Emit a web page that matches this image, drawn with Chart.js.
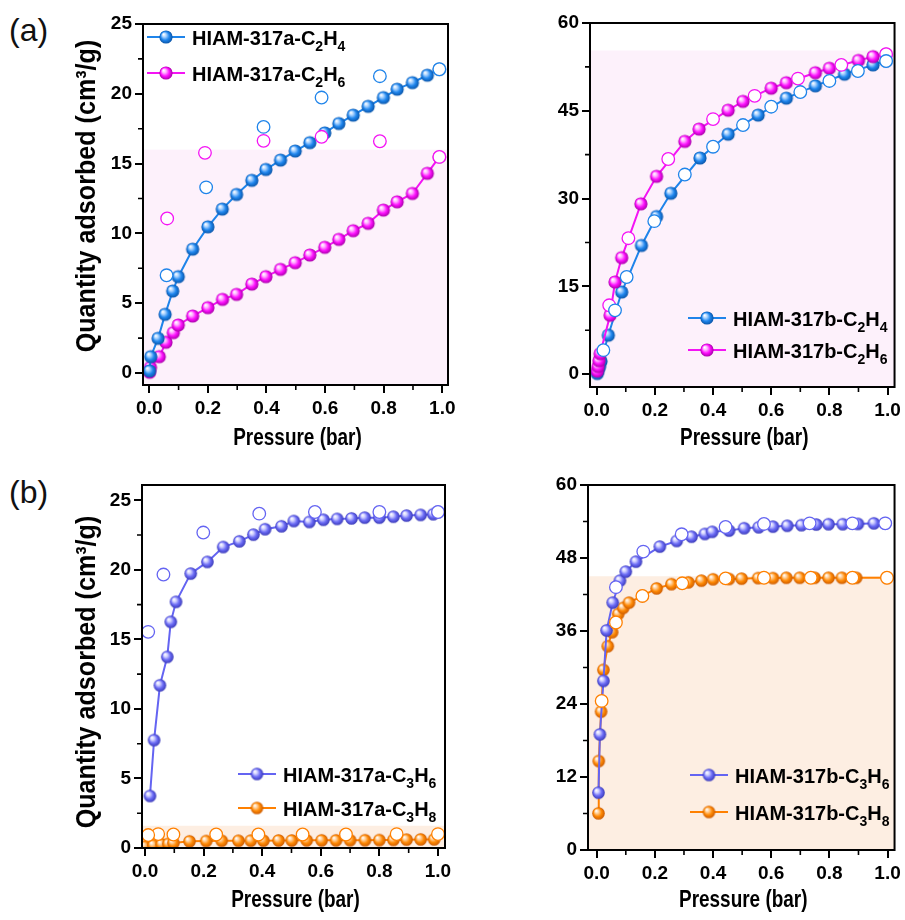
<!DOCTYPE html>
<html>
<head>
<meta charset="utf-8">
<script src="https://cdn.jsdelivr.net/npm/chart.js@4.4.1/dist/chart.umd.min.js"></script>
<style>
  html, body { margin: 0; padding: 0; background: #fff; }
  #wrap { position: relative; width: 905px; height: 920px; overflow: hidden; }
  canvas { position: absolute; }
  .tag { position: absolute; font: 32px 'Liberation Sans', Arial, sans-serif; color: #111; }
</style>
</head>
<body>
<div id="wrap">
  <div class="tag" style="left:9px; top:12px">(a)</div>
  <div class="tag" style="left:9px; top:474px">(b)</div>
  <canvas id="c1" width="470" height="462" style="left:0px; top:0px"></canvas>
  <canvas id="c2" width="445" height="462" style="left:460px; top:0px"></canvas>
  <canvas id="c3" width="470" height="458" style="left:0px; top:462px"></canvas>
  <canvas id="c4" width="445" height="458" style="left:460px; top:462px"></canvas>
</div>
<script>
// pressure (bar) and quantity adsorbed (cm3/g)
// (a) HIAM-317a, C2H4 / C2H6
const p_aC2H4 = [0.001, 0.005, 0.03, 0.054, 0.08, 0.099, 0.148, 0.2, 0.249, 0.298, 0.35, 0.398, 0.448, 0.498, 0.548, 0.599, 0.647, 0.696, 0.747, 0.799, 0.846, 0.898, 0.949, 0.99];
const q_aC2H4 = [0.15, 1.17, 2.48, 4.2, 5.87, 6.9, 8.87, 10.47, 11.74, 12.79, 13.8, 14.58, 15.25, 15.9, 16.5, 17.2, 17.87, 18.47, 19.1, 19.73, 20.33, 20.8, 21.33, 21.76];
const p_aC2H4_des = [0.99, 0.787, 0.588, 0.39, 0.194, 0.059];
const q_aC2H4_des = [21.76, 21.26, 19.73, 17.63, 13.3, 7.0];
const p_aC2H6 = [0.001, 0.004, 0.034, 0.057, 0.082, 0.099, 0.148, 0.2, 0.25, 0.298, 0.35, 0.398, 0.448, 0.498, 0.548, 0.599, 0.647, 0.696, 0.747, 0.799, 0.846, 0.898, 0.949, 0.99];
const q_aC2H6 = [0.05, 0.4, 1.17, 2.2, 2.89, 3.44, 4.08, 4.68, 5.27, 5.63, 6.37, 6.9, 7.42, 7.9, 8.45, 9.0, 9.57, 10.19, 10.72, 11.67, 12.26, 12.86, 14.3, 15.48];
const p_aC2H6_des = [0.99, 0.787, 0.588, 0.39, 0.19, 0.061];
const q_aC2H6_des = [15.48, 16.6, 16.92, 16.63, 15.77, 11.07];

// (a) HIAM-317b, C2H4 / C2H6
const p_bC2H4 = [0.002, 0.005, 0.01, 0.015, 0.04, 0.086, 0.154, 0.206, 0.255, 0.355, 0.452, 0.555, 0.652, 0.752, 0.852, 0.95, 0.995];
const q_bC2H4 = [0.1, 0.6, 1.3, 2.2, 6.65, 14.03, 21.99, 26.93, 30.9, 36.93, 41.0, 44.26, 47.16, 49.26, 51.25, 52.84, 53.5];
const p_bC2H4_des = [0.995, 0.898, 0.8, 0.7, 0.6, 0.503, 0.4, 0.303, 0.198, 0.103, 0.063, 0.023];
const q_bC2H4_des = [53.5, 51.8, 50.1, 48.2, 45.7, 42.56, 38.86, 34.1, 26.14, 16.6, 10.9, 4.1];
const p_bC2H6 = [0.002, 0.005, 0.008, 0.012, 0.046, 0.063, 0.086, 0.152, 0.206, 0.303, 0.352, 0.452, 0.503, 0.6, 0.652, 0.752, 0.8, 0.9, 0.95, 0.995];
const q_bC2H6 = [0.5, 1.3, 2.3, 3.5, 10.06, 15.74, 19.9, 29.1, 33.8, 39.77, 41.87, 45.1, 46.6, 48.86, 49.8, 51.5, 52.26, 53.6, 54.25, 54.66];
const p_bC2H6_des = [0.995, 0.841, 0.692, 0.543, 0.4, 0.246, 0.109, 0.043];
const q_bC2H6_des = [54.66, 52.84, 50.5, 47.55, 43.58, 36.76, 23.23, 11.76];

// (b) HIAM-317a, C3H6 / C3H8
const p_aC3H6 = [0.017, 0.031, 0.051, 0.076, 0.088, 0.106, 0.156, 0.213, 0.267, 0.322, 0.37, 0.41, 0.466, 0.508, 0.561, 0.609, 0.656, 0.705, 0.75, 0.8, 0.848, 0.893, 0.941, 0.984, 1.0];
const q_aC3H6 = [3.74, 7.76, 11.7, 13.74, 16.26, 17.7, 19.73, 20.57, 21.64, 22.05, 22.53, 22.92, 23.13, 23.51, 23.44, 23.6, 23.66, 23.7, 23.75, 23.75, 23.82, 23.9, 23.95, 24.0, 24.16];
const p_aC3H6_des = [1.0, 0.8, 0.58, 0.39, 0.199, 0.063, 0.011];
const q_aC3H6_des = [24.16, 24.16, 24.16, 24.04, 22.68, 19.66, 15.54];
const p_aC3H8 = [0.0, 0.029, 0.057, 0.08, 0.097, 0.152, 0.209, 0.262, 0.319, 0.361, 0.404, 0.456, 0.501, 0.552, 0.603, 0.652, 0.7, 0.751, 0.8, 0.848, 0.893, 0.941, 0.987];
const q_aC3H8 = [0.1, 0.2, 0.26, 0.3, 0.36, 0.48, 0.5, 0.52, 0.52, 0.53, 0.53, 0.54, 0.54, 0.55, 0.55, 0.55, 0.56, 0.56, 0.57, 0.58, 0.6, 0.62, 0.62];
const p_aC3H8_des = [1.0, 0.859, 0.686, 0.538, 0.387, 0.243, 0.097, 0.045, 0.011];
const q_aC3H8_des = [1.0, 1.0, 0.97, 0.97, 0.97, 0.97, 0.97, 1.0, 0.93];

// (b) HIAM-317b, C3H6 / C3H8
const p_bC3H6 = [0.006, 0.011, 0.023, 0.034, 0.055, 0.08, 0.1, 0.135, 0.217, 0.275, 0.326, 0.372, 0.397, 0.455, 0.507, 0.557, 0.606, 0.655, 0.704, 0.755, 0.797, 0.846, 0.898, 0.953, 0.992];
const q_bC3H6 = [9.42, 19.0, 27.8, 36.1, 40.66, 44.28, 45.75, 47.4, 49.87, 50.8, 51.5, 51.95, 52.3, 52.5, 52.9, 53.05, 53.15, 53.3, 53.4, 53.5, 53.55, 53.55, 53.6, 53.7, 53.7];
const p_bC3H6_des = [0.992, 0.879, 0.732, 0.575, 0.443, 0.292, 0.16, 0.066];
const q_bC3H6_des = [53.7, 53.7, 53.7, 53.6, 53.1, 51.9, 49.05, 43.2];
const p_bC3H8 = [0.006, 0.007, 0.015, 0.023, 0.038, 0.053, 0.074, 0.091, 0.111, 0.157, 0.206, 0.257, 0.315, 0.36, 0.4, 0.455, 0.498, 0.555, 0.606, 0.652, 0.698, 0.749, 0.797, 0.843, 0.892, 0.998];
const q_bC3H8 = [6.03, 14.63, 22.74, 29.6, 33.5, 35.8, 38.8, 39.8, 40.66, 41.76, 43.0, 43.7, 44.0, 44.28, 44.5, 44.55, 44.6, 44.7, 44.7, 44.75, 44.75, 44.75, 44.75, 44.75, 44.75, 44.75];
const p_bC3H8_des = [0.998, 0.879, 0.736, 0.575, 0.443, 0.294, 0.157, 0.066, 0.017];
const q_bC3H8_des = [44.75, 44.75, 44.75, 44.75, 44.65, 43.84, 41.76, 37.4, 24.5];

// axis ticks
const xMajor = [0, 0.2, 0.4, 0.6, 0.8, 1.0];
const xMinor = [0.1, 0.3, 0.5, 0.7, 0.9];
const yMajor25 = [0, 5, 10, 15, 20, 25];
const yMinor25 = [2.5, 7.5, 12.5, 17.5, 22.5];
const yMajor60a = [0, 15, 30, 45, 60];
const yMinor60a = [7.5, 22.5, 37.5, 52.5];
const yMajor60b = [0, 12, 24, 36, 48, 60];
const yMinor60b = [6, 18, 30, 42, 54];

const X_TITLE = 'Pressure (bar)';
const Y_TITLE = 'Quantity adsorbed (cm³/g)';

const FAMILY = "'Liberation Sans', Arial, sans-serif";
Chart.defaults.font.family = FAMILY;
Chart.defaults.color = '#000';

// 3D looking ball used as marker
function makeBall(light, main, dark, r) {
    const c = document.createElement('canvas');
    const s = Math.ceil(2 * r + 2);
    c.width = c.height = s;
    const g = c.getContext('2d');
    const cx = s / 2, cy = s / 2;
    const grad = g.createRadialGradient(cx - r * 0.38, cy - r * 0.42, r * 0.05, cx, cy, r);
    grad.addColorStop(0, '#ffffff');
    grad.addColorStop(0.28, light);
    grad.addColorStop(0.62, main);
    grad.addColorStop(1, dark);
    g.fillStyle = grad;
    g.beginPath();
    g.arc(cx, cy, r, 0, Math.PI * 2);
    g.fill();
    return c;
}

const BLUE = { line: '#1f84ea', ball: makeBall('#a8d2ff', '#1f86ee', '#0a55a8', 6.6) };
const MAGENTA = { line: '#f414f4', ball: makeBall('#ffb0ff', '#ff10ff', '#a800a8', 6.6) };
const PURPLE = { line: '#6464f2', ball: makeBall('#cfcfff', '#6c6cf6', '#3a3ab8', 6.3) };
const ORANGE = { line: '#ff8000', ball: makeBall('#ffcf99', '#ff8a05', '#cc5a00', 6.3) };

const toXY = (p, q) => p.map((x, i) => ({ x: x, y: q[i] }));

function ads(p, q, col) {
    return { data: toXY(p, q), showLine: true, borderColor: col.line, borderWidth: 2,
             pointStyle: col.ball, pointRadius: 6.5, order: 2 };
}
function des(p, q, col) {
    return { data: toXY(p, q), showLine: false, pointStyle: 'circle', pointRadius: 6.3,
             pointBorderWidth: 1.3, pointBorderColor: col.line, pointBackgroundColor: '#ffffff', order: 1 };
}

// condensed bold text (the figure uses a narrow face)
function narrowText(ctx, text, x, y, rot, size, squeeze) {
    ctx.save();
    ctx.translate(x, y);
    ctx.rotate(rot);
    ctx.scale(squeeze, 1);
    ctx.font = 'bold ' + size + 'px ' + FAMILY;
    ctx.fillStyle = '#000';
    ctx.textAlign = 'center';
    ctx.textBaseline = 'middle';
    ctx.fillText(text, 0, 0);
    ctx.restore();
}

// shading, minor ticks, closed frame and axis titles
const framePlugin = {
    id: 'frame',
    beforeDatasetsDraw(chart) {
        const o = chart.options.plugins.frame;
        const a = chart.chartArea, ctx = chart.ctx;
        const top = chart.scales.y.getPixelForValue(o.shadeTo);
        ctx.save();
        ctx.fillStyle = o.shadeColor;
        ctx.fillRect(a.left, top, a.right - a.left, a.bottom - top);
        ctx.restore();
    },
    afterDatasetsDraw(chart) {
        const o = chart.options.plugins.frame;
        const a = chart.chartArea, ctx = chart.ctx;
        ctx.save();
        ctx.strokeStyle = '#000';
        ctx.lineWidth = 1.6;
        ctx.beginPath();
        o.xMinor.forEach(v => {
            const px = chart.scales.x.getPixelForValue(v);
            ctx.moveTo(px, a.bottom); ctx.lineTo(px, a.bottom + 5);
        });
        o.yMinor.forEach(v => {
            const py = chart.scales.y.getPixelForValue(v);
            ctx.moveTo(a.left, py); ctx.lineTo(a.left - 5, py);
        });
        ctx.stroke();
        ctx.lineWidth = 2;
        ctx.strokeRect(a.left, a.top, a.right - a.left, a.bottom - a.top);
        ctx.restore();

        narrowText(ctx, X_TITLE, (a.left + a.right) / 2 + 2, o.xTitleY, 0, 24, 0.79);
        if (o.yTitle) narrowText(ctx, Y_TITLE, o.yTitle.x, o.yTitle.y, -Math.PI / 2, 27, 0.93);
    }
};

// legend: line + ball sample, label with "_" marking subscript digits
const legendPlugin = {
    id: 'isoLegend',
    afterDraw(chart) {
        const o = chart.options.plugins.isoLegend;
        const ctx = chart.ctx;
        ctx.save();
        o.items.forEach(it => {
            ctx.strokeStyle = it.col.line;
            ctx.lineWidth = 2;
            ctx.beginPath();
            ctx.moveTo(it.x, it.y); ctx.lineTo(it.x + 38, it.y);
            ctx.stroke();
            const b = it.col.ball;
            ctx.drawImage(b, it.x + 19 - b.width / 2, it.y - b.height / 2);
            let tx = it.x + 45;
            const base = it.y + 8;
            ctx.fillStyle = '#000';
            ctx.textBaseline = 'alphabetic';
            it.text.split(/(_\d)/).forEach(part => {
                if (!part) return;
                if (part[0] === '_') {
                    ctx.font = 'bold 14px ' + FAMILY;
                    ctx.fillText(part[1], tx, base + 6);
                    tx += ctx.measureText(part[1]).width;
                } else {
                    ctx.font = 'bold 20px ' + FAMILY;
                    ctx.fillText(part, tx, base);
                    tx += ctx.measureText(part).width;
                }
            });
        });
        ctx.restore();
    }
};

const tickFont = { family: FAMILY, weight: 'bold', size: 19 };
const gridOpts = { drawOnChartArea: false, drawTicks: true, tickLength: 8, tickWidth: 2, color: '#000', lineWidth: 2 };

function panel(id, cfg) {
    const cv = document.getElementById(id);
    const a = cfg.area;
    return new Chart(cv, {
        type: 'scatter',
        data: { datasets: cfg.datasets },
        options: {
            responsive: false,
            animation: false,
            devicePixelRatio: 1,
            layout: { padding: { top: a.top, right: cv.width - a.right, left: 0, bottom: 0 } },
            plugins: {
                legend: { display: false },
                tooltip: { enabled: false },
                frame: { shadeTo: cfg.shadeTo, shadeColor: cfg.shadeColor, xMinor: xMinor, yMinor: cfg.yMinor,
                         xTitleY: cfg.xTitleY, yTitle: cfg.yTitle },
                isoLegend: { items: cfg.legend }
            },
            scales: {
                x: {
                    type: 'linear', min: cfg.xMin, max: cfg.xMax,
                    afterBuildTicks: s => { s.ticks = xMajor.map(v => ({ value: v })); },
                    afterFit: s => { s.height = cv.height - a.bottom; },
                    ticks: { font: tickFont, color: '#000', padding: 4, maxRotation: 0, autoSkip: false,
                             callback: v => v.toFixed(1) },
                    grid: gridOpts,
                    border: { display: false }
                },
                y: {
                    type: 'linear', min: cfg.yMin, max: cfg.yMax,
                    afterBuildTicks: s => { s.ticks = cfg.yMajor.map(v => ({ value: v })); },
                    afterFit: s => { s.width = a.left; },
                    ticks: { font: tickFont, color: '#000', padding: 3, autoSkip: false,
                             callback: v => String(v) },
                    grid: gridOpts,
                    border: { display: false }
                }
            }
        },
        plugins: [framePlugin, legendPlugin]
    });
}

panel('c1', {
    area: { left: 143, top: 24, right: 448, bottom: 385 },
    xMin: -0.0215, xMax: 1.0195, yMin: -0.86, yMax: 25,
    yMajor: yMajor25, yMinor: yMinor25, xTitleY: 438, yTitle: { x: 88, y: 196 },
    shadeTo: 16, shadeColor: '#fdf1fb',
    datasets: [
        des(p_aC2H4_des, q_aC2H4_des, BLUE), des(p_aC2H6_des, q_aC2H6_des, MAGENTA),
        ads(p_aC2H4, q_aC2H4, BLUE), ads(p_aC2H6, q_aC2H6, MAGENTA)
    ],
    legend: [
        { x: 147, y: 37, col: BLUE, text: 'HIAM-317a-C_2H_4' },
        { x: 147, y: 73, col: MAGENTA, text: 'HIAM-317a-C_2H_6' }
    ]
});

panel('c2', {
    area: { left: 130, top: 23, right: 435, bottom: 387 },
    xMin: -0.023, xMax: 1.024, yMin: -2.2, yMax: 60,
    yMajor: yMajor60a, yMinor: yMinor60a, xTitleY: 438, yTitle: null,
    shadeTo: 55.3, shadeColor: '#fdf1fb',
    datasets: [
        des(p_bC2H4_des, q_bC2H4_des, BLUE), des(p_bC2H6_des, q_bC2H6_des, MAGENTA),
        ads(p_bC2H6, q_bC2H6, MAGENTA), ads(p_bC2H4, q_bC2H4, BLUE)
    ],
    legend: [
        { x: 228, y: 318, col: BLUE, text: 'HIAM-317b-C_2H_4' },
        { x: 228, y: 350, col: MAGENTA, text: 'HIAM-317b-C_2H_6' }
    ]
});

panel('c3', {
    area: { left: 142, top: 23, right: 445, bottom: 386 },
    xMin: -0.0102, xMax: 1.024, yMin: 0, yMax: 26.1,
    yMajor: yMajor25, yMinor: yMinor25, xTitleY: 438, yTitle: { x: 88, y: 210 },
    shadeTo: 1.6, shadeColor: '#fdeee2',
    datasets: [
        des(p_aC3H6_des, q_aC3H6_des, PURPLE), des(p_aC3H8_des, q_aC3H8_des, ORANGE),
        ads(p_aC3H6, q_aC3H6, PURPLE), ads(p_aC3H8, q_aC3H8, ORANGE)
    ],
    legend: [
        { x: 238, y: 312, col: PURPLE, text: 'HIAM-317a-C_3H_6' },
        { x: 238, y: 346, col: ORANGE, text: 'HIAM-317a-C_3H_8' }
    ]
});

panel('c4', {
    area: { left: 128, top: 23, right: 435, bottom: 388 },
    xMin: -0.03, xMax: 1.024, yMin: 0, yMax: 60,
    yMajor: yMajor60b, yMinor: yMinor60b, xTitleY: 438, yTitle: null,
    shadeTo: 45, shadeColor: '#fdeee2',
    datasets: [
        des(p_bC3H6_des, q_bC3H6_des, PURPLE), des(p_bC3H8_des, q_bC3H8_des, ORANGE),
        ads(p_bC3H6, q_bC3H6, PURPLE), ads(p_bC3H8, q_bC3H8, ORANGE)
    ],
    legend: [
        { x: 230, y: 313, col: PURPLE, text: 'HIAM-317b-C_3H_6' },
        { x: 230, y: 350, col: ORANGE, text: 'HIAM-317b-C_3H_8' }
    ]
});
</script>
</body>
</html>
